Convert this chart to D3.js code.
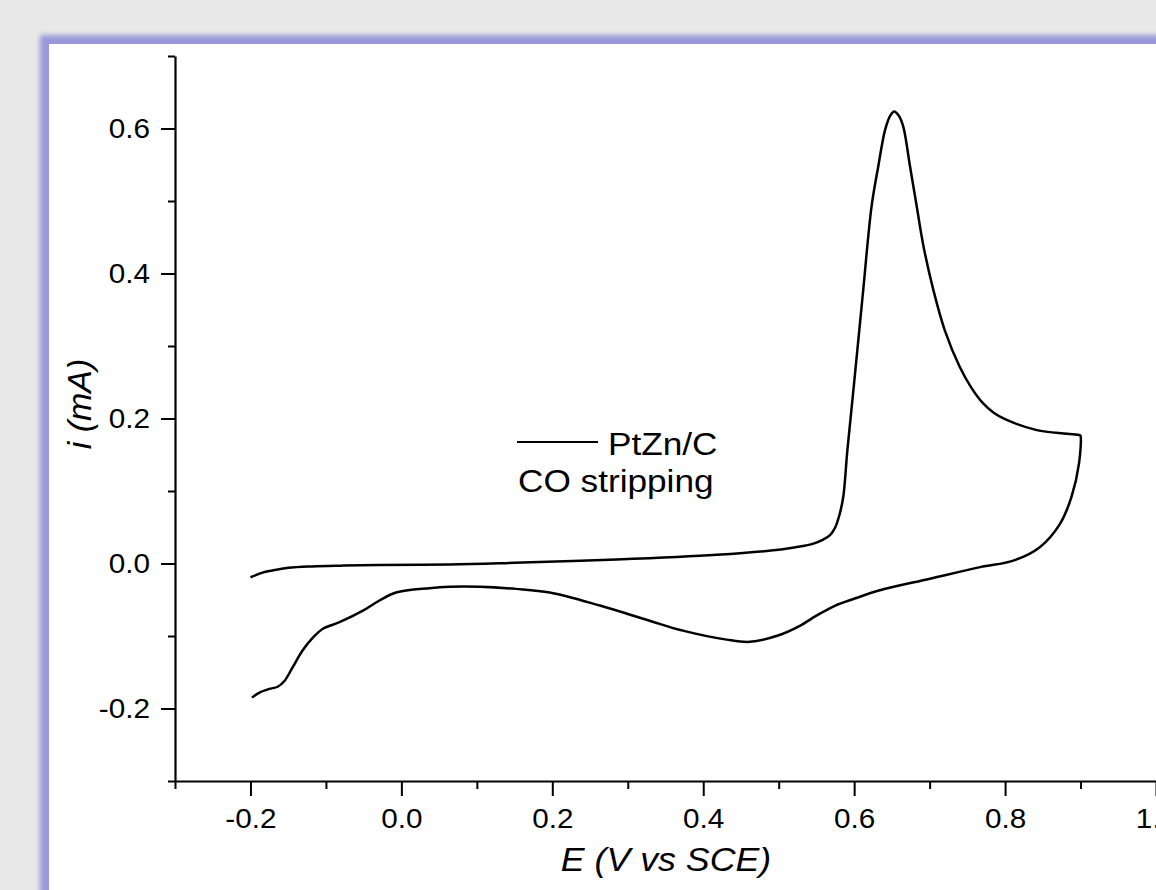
<!DOCTYPE html>
<html>
<head>
<meta charset="utf-8">
<script src="https://cdn.jsdelivr.net/npm/d3@7"></script>
<style>
  html, body { margin: 0; padding: 0; background: #e8e8e8; overflow: hidden; }
  svg { display: block; }
  text { font-family: "Liberation Sans", Arial, sans-serif; fill: #000; }
  .sxc { transform-box: fill-box; transform-origin: center center; transform: scaleX(1.1); }
  .sxl { transform-box: fill-box; transform-origin: left center; transform: scaleX(1.1); }
  .sxr { transform-box: fill-box; transform-origin: right center; transform: scaleX(1.1); }
</style>
</head>
<body>
<svg id="chart" width="1156" height="890"></svg>
<script>
// ---- Data ----
// Anodic (forward) scan, E in V vs SCE, i in mA
const forwardE = [-0.200, -0.185, -0.171, -0.150, -0.118, -0.080, -0.030, 0.064, 0.150, 0.285, 0.418, 0.500, 0.528, 0.545, 0.559, 0.568, 0.575, 0.581, 0.5856, 0.591, 0.599, 0.612, 0.623, 0.632, 0.641, 0.648, 0.653, 0.659, 0.665, 0.674, 0.683, 0.692, 0.705, 0.720, 0.740, 0.755, 0.770, 0.785, 0.800, 0.842, 0.882, 0.899];
const forwardI = [-0.019, -0.013, -0.0097, -0.006, -0.004, -0.003, -0.0022, -0.0014, 0.001, 0.0055, 0.012, 0.019, 0.0235, 0.027, 0.033, 0.039, 0.050, 0.069, 0.092, 0.156, 0.239, 0.377, 0.492, 0.548, 0.598, 0.618, 0.6236, 0.618, 0.603, 0.548, 0.492, 0.437, 0.377, 0.322, 0.271, 0.243, 0.222, 0.208, 0.199, 0.184, 0.179, 0.177];
// Cathodic (reverse) scan
const reverseE = [0.900, 0.898, 0.888, 0.873, 0.846, 0.811, 0.767, 0.7005, 0.634, 0.599, 0.575, 0.550, 0.528, 0.500, 0.462, 0.431, 0.373, 0.329, 0.263, 0.1966, 0.152, 0.104, 0.064, 0.037, -0.007, -0.029, -0.051, -0.082, -0.104, -0.117, -0.131, -0.144, -0.155, -0.164, -0.175, -0.188, -0.198];
const reverseI = [0.176, 0.138, 0.092, 0.055, 0.0225, 0.004, -0.005, -0.021, -0.037, -0.049, -0.058, -0.072, -0.086, -0.099, -0.108, -0.105, -0.0926, -0.079, -0.058, -0.040, -0.035, -0.032, -0.032, -0.034, -0.040, -0.051, -0.065, -0.081, -0.090, -0.102, -0.120, -0.143, -0.162, -0.170, -0.173, -0.178, -0.185];

const xTicks = [-0.2, 0.0, 0.2, 0.4, 0.6, 0.8, 1.0];
const xMinorTicks = [-0.3, -0.1, 0.1, 0.3, 0.5, 0.7, 0.9];
const yTicks = [-0.2, 0.0, 0.2, 0.4, 0.6];
const yMinorTicks = [-0.3, -0.1, 0.1, 0.3, 0.5, 0.7];

const xTitle = "E (V vs SCE)";
const yTitle = "i (mA)";
const legendLabel = "PtZn/C";
const legendNote = "CO stripping";

// ---- Drawing ----
const svg = d3.select("#chart");
const W = 1156, H = 890;

const defs = svg.append("defs");
const blur = defs.append("filter").attr("id", "blur")
  .attr("x", "-5%").attr("y", "-5%").attr("width", "110%").attr("height", "110%");
blur.append("feGaussianBlur").attr("stdDeviation", 2.5);

// panel with bluish frame
svg.append("rect").attr("x", 40).attr("y", 35).attr("width", W).attr("height", H)
  .attr("fill", "#9898da").attr("filter", "url(#blur)");
svg.append("rect").attr("x", 49).attr("y", 44).attr("width", W).attr("height", H)
  .attr("fill", "#ffffff");

const x = d3.scaleLinear().domain([-0.3, 1.0]).range([175, 1156]);
const y = d3.scaleLinear().domain([-0.3, 0.7]).range([781, 56]);

const fmt = v => v.toFixed(1);

// X axis
const gx = svg.append("g").attr("transform", `translate(0,${y(-0.3)})`);
gx.call(d3.axisBottom(x).tickValues(xTicks).tickFormat(fmt).tickSize(15).tickSizeOuter(0).tickPadding(13));
gx.selectAll(".tick text").classed("sxc", true);
const gxm = svg.append("g").attr("transform", `translate(0,${y(-0.3)})`);
gxm.call(d3.axisBottom(x).tickValues(xMinorTicks).tickFormat("").tickSize(8).tickSizeOuter(0));
gxm.select(".domain").remove();

// Y axis
const gy = svg.append("g").attr("transform", `translate(${x(-0.3)},0)`);
gy.call(d3.axisLeft(y).tickValues(yTicks).tickFormat(fmt).tickSize(14).tickSizeOuter(0).tickPadding(11));
gy.selectAll(".tick text").classed("sxr", true);
const gym = svg.append("g").attr("transform", `translate(${x(-0.3)},0)`);
gym.call(d3.axisLeft(y).tickValues(yMinorTicks).tickFormat("").tickSize(7).tickSizeOuter(0));
gym.select(".domain").remove();

svg.selectAll(".domain").attr("stroke", "#000").attr("stroke-width", 2.2);
svg.selectAll(".tick line").attr("stroke", "#000").attr("stroke-width", 2);
svg.selectAll(".tick text").attr("font-size", 27).attr("font-family", "Liberation Sans, Arial, sans-serif")
  .attr("fill", "#000");

// Axis titles
svg.append("text").attr("x", 666).attr("y", 871).attr("text-anchor", "middle")
  .attr("font-size", 32.5).attr("font-style", "italic").classed("sxc", true).text(xTitle);
svg.append("text").attr("transform", "translate(91,404) rotate(-90)").attr("text-anchor", "middle")
  .attr("font-size", 34).attr("font-style", "italic").text(yTitle);

// Curve
const pts = forwardE.map((e, k) => [e, forwardI[k]])
  .concat(reverseE.map((e, k) => [e, reverseI[k]]));
const line = d3.line().x(d => x(d[0])).y(d => y(d[1])).curve(d3.curveCatmullRom.alpha(0.5));
svg.append("path").datum(pts).attr("d", line)
  .attr("fill", "none").attr("stroke", "#000").attr("stroke-width", 2.5).attr("stroke-linejoin", "round");

// Legend
svg.append("line").attr("x1", 517).attr("x2", 598).attr("y1", 442).attr("y2", 442)
  .attr("stroke", "#000").attr("stroke-width", 2.2);
svg.append("text").attr("x", 608).attr("y", 455).attr("font-size", 32).classed("sxl", true).text(legendLabel);
svg.append("text").attr("x", 518).attr("y", 492).attr("font-size", 32).classed("sxl", true).text(legendNote);
</script>
</body>
</html>
